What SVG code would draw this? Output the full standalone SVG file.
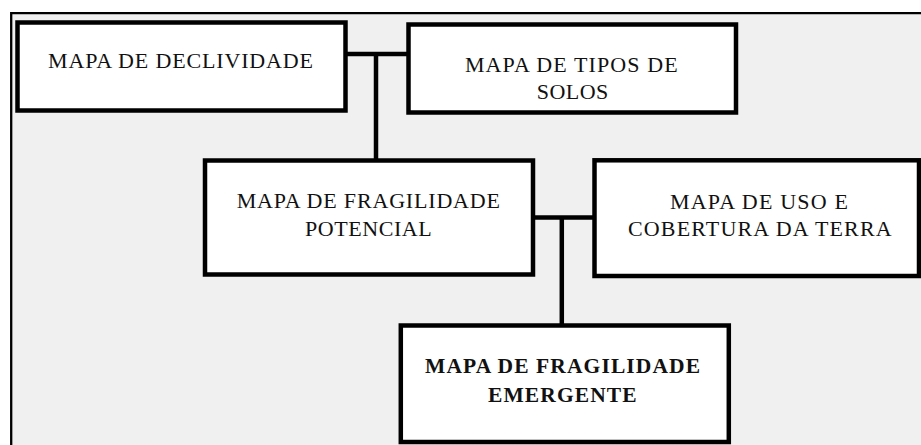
<svg xmlns="http://www.w3.org/2000/svg" width="921" height="445" viewBox="0 0 921 445">
<style>
.box{fill:#ffffff;stroke:#000000;stroke-width:4.5}
.con{fill:none;stroke:#000000;stroke-width:4.5}
.t{font-family:'Liberation Serif','Times New Roman',serif;font-size:22px;fill:#111111;text-anchor:middle}
.b{font-weight:bold;font-size:21.5px}
</style>
<rect x="0" y="0" width="921" height="445" fill="#ffffff"/>
<rect x="11.2" y="13.2" width="912" height="434" fill="#f0f0f0"/>
<path d="M11.2 447 V13.2 H925" fill="none" stroke="#000" stroke-width="2.3"/>
<g id="connectors">
<path class="con" d="M345.5 54 H408.5 M376 54 V160.5"/>
<path class="con" d="M533 217.5 H594.5 M561.8 217.5 V325.5"/>
</g>
<g id="declividade">
<rect class="box" x="17.5" y="22.5" width="328" height="88"/>
<text class="t" x="180.5" y="68" textLength="265" lengthAdjust="spacing">MAPA DE DECLIVIDADE</text>
</g>
<g id="solos">
<rect class="box" x="408.5" y="24.5" width="327.5" height="88"/>
<text class="t" x="571.3" y="71.7" textLength="212.7" lengthAdjust="spacing">MAPA DE TIPOS DE</text>
<text class="t" x="572.5" y="99.3" textLength="71.7" lengthAdjust="spacing">SOLOS</text>
</g>
<g id="potencial">
<rect class="box" x="205" y="160.5" width="328" height="114"/>
<text class="t" x="368.3" y="208.3" textLength="263.3" lengthAdjust="spacing">MAPA DE FRAGILIDADE</text>
<text class="t" x="368.3" y="236" textLength="126.7" lengthAdjust="spacing">POTENCIAL</text>
</g>
<g id="uso">
<rect class="box" x="594.5" y="160.3" width="324.5" height="115.7"/>
<text class="t" x="759" y="209.3" textLength="178" lengthAdjust="spacing">MAPA DE USO E</text>
<text class="t" x="759.8" y="236" textLength="263.7" lengthAdjust="spacing">COBERTURA  DA TERRA</text>
</g>
<g id="emergente">
<rect class="box" x="400.8" y="325.5" width="328" height="116.5"/>
<text class="t b" x="562.5" y="372.7" textLength="275" lengthAdjust="spacing">MAPA DE FRAGILIDADE</text>
<text class="t b" x="562.3" y="401.7" textLength="148.7" lengthAdjust="spacing">EMERGENTE</text>
</g>
</svg>
